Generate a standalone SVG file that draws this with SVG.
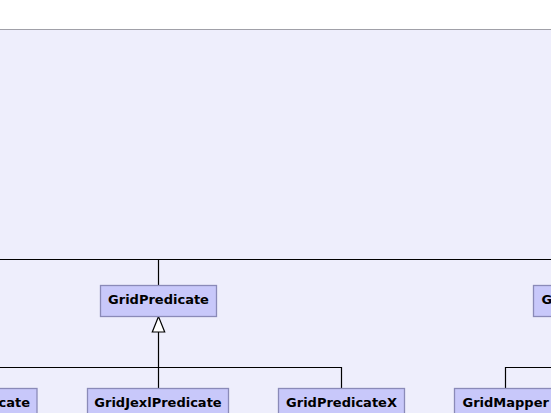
<svg xmlns="http://www.w3.org/2000/svg" width="551" height="413" viewBox="0 0 551 413">
<style>
.node rect{fill:#c8c8fa;stroke:#8a8ab8;stroke-width:1.3}
.node text{font-family:"DejaVu Sans",sans-serif;font-weight:bold;font-size:13px;fill:#000}
.edge{fill:none;stroke:#000;stroke-width:1.2}
</style>
<defs>
<marker id="tri" markerWidth="14" markerHeight="18" refX="6.5" refY="0.5" orient="auto" markerUnits="userSpaceOnUse" viewBox="0 0 14 18"/>
</defs>
<rect x="0" y="0" width="551" height="413" fill="#ffffff"/>
<rect x="0" y="29.5" width="551" height="384" fill="#eeeefc"/>
<line x1="0" y1="29.5" x2="551" y2="29.5" stroke="#a0a0a8" stroke-width="1.2"/>
<g id="connectors">
<line class="edge" x1="0" y1="259.5" x2="551" y2="259.5"/>
<line class="edge" x1="158.5" y1="259.5" x2="158.5" y2="285"/>
<line class="edge" x1="158.5" y1="332" x2="158.5" y2="388"/>
<polygon points="158.5,316.5 152.3,332 164.7,332" fill="#ffffff" stroke="#000" stroke-width="1.2"/>
<polyline class="edge" points="0,367.5 341.5,367.5 341.5,388"/>
<polyline class="edge" points="551,367.5 505.5,367.5 505.5,388"/>
</g>
<g id="node-cate" class="node">
<rect x="-80" y="388.5" width="117" height="30"/>
<text x="30" y="406.5" text-anchor="end">cate</text>
</g>
<g id="node-GridPredicate" class="node">
<rect x="100.5" y="285.5" width="116" height="31"/>
<text x="158.5" y="303.5" text-anchor="middle">GridPredicate</text>
</g>
<g id="node-G" class="node">
<rect x="533.5" y="285.5" width="40" height="31"/>
<text x="541.5" y="303.5">G</text>
</g>
<g id="node-GridJexlPredicate" class="node">
<rect x="87.5" y="388.5" width="141" height="30"/>
<text x="158" y="406.5" text-anchor="middle">GridJexlPredicate</text>
</g>
<g id="node-GridPredicateX" class="node">
<rect x="278.5" y="388.5" width="126" height="30"/>
<text x="341.5" y="406.5" text-anchor="middle">GridPredicateX</text>
</g>
<g id="node-GridMapper" class="node">
<rect x="454.5" y="388.5" width="110" height="30"/>
<text x="462.5" y="406.5">GridMapper</text>
</g>
</svg>
